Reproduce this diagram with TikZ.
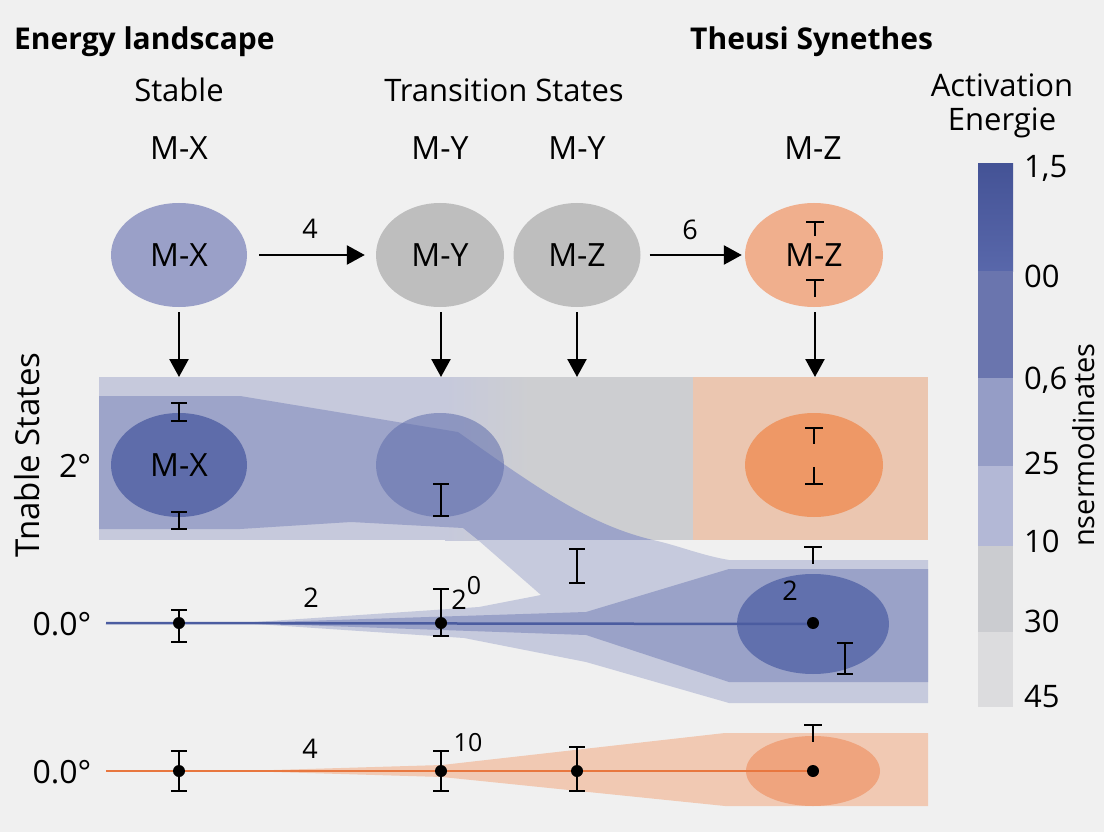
\documentclass[tikz,border=0pt]{standalone}
\usepackage{fontspec}
\setmainfont{Open Sans}
\usetikzlibrary{arrows.meta,shapes.geometric}
\definecolor{bg}{HTML}{F0F0F0}
\definecolor{mxc}{HTML}{9AA0C8}
\definecolor{grc}{HTML}{BEBEBE}
\definecolor{orc}{HTML}{F0AF8D}
\definecolor{lav}{HTML}{C6C9DC}
\definecolor{grayb}{HTML}{CDCED1}
\definecolor{peach}{HTML}{EBC6B0}
\definecolor{dband}{HTML}{9DA4C9}
\definecolor{bandx}{HTML}{5E6CAA}
\definecolor{bandy}{HTML}{5F6DAB}
\definecolor{orng}{HTML}{EE9866}
\definecolor{lav2}{HTML}{C6CADD}
\definecolor{mband}{HTML}{9AA2C8}
\definecolor{lowe}{HTML}{6170AD}
\definecolor{bline}{HTML}{4B5CA0}
\definecolor{oline}{HTML}{E8773F}
\definecolor{ocone}{HTML}{F1C9B3}
\definecolor{oell}{HTML}{EFA47E}
\definecolor{cba}{HTML}{4A5AA3}
\definecolor{cbb}{HTML}{6A75AE}
\definecolor{cbc}{HTML}{959DC6}
\definecolor{cbd}{HTML}{B3B8D6}
\definecolor{cbe}{HTML}{CBCCD0}
\definecolor{cbf}{HTML}{DCDCDE}
\newcommand{\errbar}[3]{%
  \draw[ebar] (#1,#2) -- (#1,#3);
  \draw[ebar] (#1-8,#2) -- (#1+8,#2);
  \draw[ebar] (#1-8,#3) -- (#1+8,#3);}
\newcommand{\tmark}[3]{%
  \draw[ebar] (#1,#2) -- (#1,#3);
  \draw[ebar] (#1-9,#2) -- (#1+9,#2);}
\begin{document}
\begin{tikzpicture}[x=1pt,y=-1pt,
  txt/.style={font=\fontsize{31}{34}\selectfont, inner sep=0pt},
  mtxt/.style={font=\fontsize{32}{35}\selectfont, inner sep=0pt},
  ttl/.style={font=\bfseries\fontsize{30}{34}\selectfont, inner sep=0pt},
  num/.style={font=\fontsize{27}{30}\selectfont, inner sep=0pt},
  sup/.style={font=\fontsize{25}{28}\selectfont, inner sep=0pt},
  ell/.style={ellipse, inner sep=0pt, draw=none, font=\fontsize{32}{35}\selectfont},
  arr/.style={-{Triangle[length=18pt,width=19pt]}, line width=2.5pt},
  ebar/.style={line width=1.8pt},
  dotn/.style={circle, fill=black, inner sep=0pt, minimum size=12pt}]
\useasboundingbox (0,0) rectangle (1104,832);
\fill[bg] (0,0) rectangle (1104,832);

% ---------- top band rectangle ----------
\fill[lav] (99,377) rectangle (445,540);
\shade[left color=lav, right color=grayb] (445,377) rectangle (530,540);
\fill[grayb] (530,377) rectangle (693,540);
\fill[peach] (693,377) rectangle (928,540);

% dark band
\fill[dband] (99,396) -- (240,396) -- (458,432)
  .. controls (540,490) and (590,525) .. (653,540)
  -- (478,540) -- (463,528) -- (351,522) -- (240,529) -- (99,529) -- cycle;

% light stripe and lower light band
\fill[lav2] (478,540) -- (541,595) -- (479,607) -- (240,623) -- (464,638)
  -- (586,662) -- (729,703) -- (928,703) -- (928,560) -- (729,560)
  .. controls (700,555) and (680,546) .. (653,540) -- cycle;

% medium lower band
\fill[mband] (240,623) -- (586,612) -- (729,569) -- (928,569) -- (928,682)
  -- (729,682) -- (586,635) -- cycle;

% orange cone
\fill[ocone] (240,771) -- (442,765) -- (725,733) -- (928,733) -- (928,806)
  -- (725,806) -- (442,777) -- cycle;

% ---------- ellipses in bands ----------
\node[ell, fill=bandx, minimum width=136pt, minimum height=104pt] (bx) at (179,465) {M-X};
\node[ell, fill=bandy, fill opacity=0.55, minimum width=128pt, minimum height=104pt] (by) at (440,465) {};
\node[ell, fill=orng, minimum width=138pt, minimum height=104pt] (bz) at (814,465) {};
\node[ell, fill=lowe, minimum width=152pt, minimum height=100pt] (lz) at (813,624) {};
\node[ell, fill=oell, minimum width=134pt, minimum height=70pt] (oz) at (813,771) {};

% ---------- lines and dots ----------
\coordinate (bs) at (106,623);
\coordinate (os) at (106,771);
\draw[bline, line width=2.5pt] (bs) -- (lz.center);
\draw[oline, line width=2.8pt] (os) -- (oz.center);
\node[dotn] (d1) at (179,623) {};
\node[dotn] (d2) at (441,623) {};
\node[dotn] (d3) at (813,623) {};
\node[dotn] (e1) at (179,771) {};
\node[dotn] (e2) at (441,771) {};
\node[dotn] (e3) at (577,771) {};
\node[dotn] (e4) at (813,771) {};

% ---------- error bars ----------
\errbar{179}{403}{421}
\errbar{179}{512}{529}
\errbar{441}{484}{516}
\tmark{814}{428}{444}
\draw[ebar] (814,467) -- (814,484);
\draw[ebar] (805,484) -- (823,484);
\errbar{179}{610}{642}
\errbar{441}{589}{636}
\errbar{577}{549}{583}
\errbar{845}{643}{674}
\tmark{813}{547}{564}
\errbar{179}{751}{791}
\errbar{441}{751}{791}
\errbar{577}{747}{791}
\tmark{813}{725}{742}

% ---------- top row ----------
\node[ell, fill=mxc, minimum width=136pt, minimum height=104pt] (ex) at (179,255) {M-X};
\node[ell, fill=grc, minimum width=128pt, minimum height=104pt] (ey) at (440,255) {M-Y};
\node[ell, fill=grc, minimum width=127pt, minimum height=104pt] (ez) at (577,255) {M-Z};
\node[ell, fill=orc, minimum width=138pt, minimum height=104pt] (eo) at (814,255) {M-Z};
\tmark{815}{222}{236}
\tmark{815}{280}{297}

\draw[arr, shorten <=12pt, shorten >=11pt] (ex) -- (ey);
\draw[arr, shorten <=9pt, shorten >=3pt] (ez) -- (eo);
\node[num] (l4) at (310,229) {4};
\node[num] (l6) at (690,230) {6};

\coordinate (ax) at (179,377);
\coordinate (ay) at (441,377);
\coordinate (az) at (577,377);
\coordinate (ao) at (815,377);
\draw[arr, shorten <=5pt] (ex.south) -- (ax);
\draw[arr, shorten <=5pt] (ey.south -| ay) -- (ay);
\draw[arr, shorten <=5pt] (ez.south) -- (az);
\draw[arr, shorten <=5pt] (eo.south -| ao) -- (ao);

% ---------- texts ----------
\node[ttl, anchor=west] (t1) at (14,42) {Energy landscape};
\node[ttl, anchor=west] (t2) at (690,42) {Theusi Synethes};
\node[txt] (h1) at (179,90) {Stable};
\node[txt] (h2) at (504,90) {Transition States};
\node[txt, align=center] (h3) at (1002,106) {Activation\\Energie};
\node[mtxt] (m1) at (179,148) {M-X};
\node[mtxt] (m2) at (440,148) {M-Y};
\node[mtxt] (m3) at (577,148) {M-Y};
\node[mtxt] (m4) at (813,148) {M-Z};

\node[txt, font=\fontsize{33}{36}\selectfont, rotate=90] (ys) at (27,455) {Tnable States};
\node[txt, font=\fontsize{32}{36}\selectfont] (y1) at (75,466) {2°};
\node[txt, font=\fontsize{32}{36}\selectfont] (y2) at (62,624) {0.0°};
\node[txt, font=\fontsize{32}{36}\selectfont] (y3) at (62,772) {0.0°};

\node[num] (n1) at (311,598) {2};
\node[num] (n2) at (459,600) {2};
\node[sup] (n3) at (474,586) {0};
\node[num] (n4) at (790,591) {2};
\node[num] (n5) at (310,749) {4};
\node[sup] (n6) at (468,743) {10};

% ---------- colour bar ----------
\shade[top color=cba!92!black, bottom color=cba!92!white] (978,164) rectangle (1013,271);
\fill[cbb] (978,271) rectangle (1013,378);
\fill[cbc] (978,378) rectangle (1013,466);
\fill[cbd] (978,466) rectangle (1013,546);
\fill[cbe] (978,546) rectangle (1013,632);
\fill[cbf] (978,632) rectangle (1013,707);
\node[txt, anchor=west] (c1) at (1024,168) {1,5};
\node[txt, anchor=west] (c2) at (1024,276) {00};
\node[txt, anchor=west] (c3) at (1024,380) {0,6};
\node[txt, anchor=west] (c4) at (1024,463) {25};
\node[txt, anchor=west] (c5) at (1024,541) {10};
\node[txt, anchor=west] (c6) at (1024,621) {30};
\node[txt, anchor=west] (c7) at (1024,697) {45};
\node[txt, font=\fontsize{29}{32}\selectfont, rotate=90] (cl) at (1084,445) {nsermodinates};
\end{tikzpicture}
\end{document}
